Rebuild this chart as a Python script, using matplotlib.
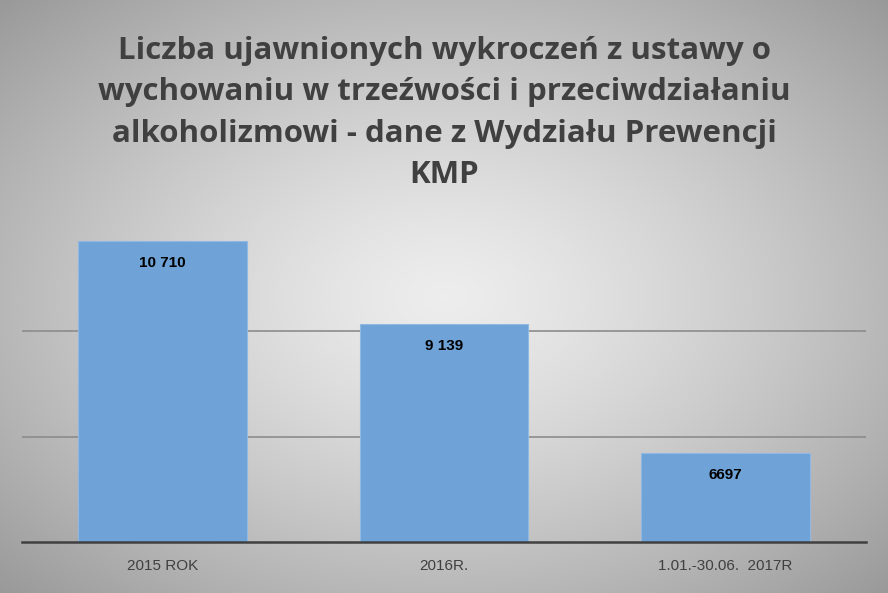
import matplotlib
matplotlib.use("Agg")
import matplotlib.pyplot as plt
import numpy as np

categories = ["2015 ROK", "2016R.", "1.01.-30.06.  2017R"]
values = [10710, 9139, 6697]
labels = ["10 710", "9 139", "6697"]
title = "Liczba ujawnionych wykroczeń z ustawy o\nwychowaniu w trzeźwości i przeciwdziałaniu\nalkoholizmowi - dane z Wydziału Prewencji\nKMP"

W, H = 888, 593
fig = plt.figure(figsize=(W/100, H/100), dpi=100)
bg = fig.add_axes([0, 0, 1, 1])
yy, xx = np.mgrid[0:H, 0:W]
r = np.sqrt(((xx - W/2)/(W/2))**2 + ((yy - H/2)/(H/2))**2) / np.sqrt(2)
g = 0.93 - 0.33*r**1.3
img = np.dstack([g, g, g])
bg.imshow(img, aspect="auto", extent=[0, 1, 0, 1])
bg.axis("off")

ax = fig.add_axes([22/W, (H-542)/H, (866-22)/W, (542-226)/H])
ax.patch.set_alpha(0)
x = np.arange(len(categories))
ax.bar(x, values, width=0.6, color="#6fa3d8", edgecolor="#8fb8e3", linewidth=0.8, zorder=3, bottom=0)
ax.set_ylim(5000, 11000)
ax.set_xlim(-0.5, 2.5)
for yv in [7000, 9000]:
    ax.axhline(yv, color="#8c8c8c", lw=1.2, zorder=1)
for xi, v, l in zip(x, values, labels):
    ax.text(xi, v - 420, l, ha="center", va="center", fontsize=11, fontweight="bold", color="black", family="Liberation Sans", zorder=4)
ax.set_xticks(x)
ax.set_xticklabels(categories, fontsize=11, color="#404040", family="Liberation Sans")
ax.tick_params(axis="x", length=0, pad=12)
ax.set_yticks([])
for s in ["top", "right", "left"]:
    ax.spines[s].set_visible(False)
ax.spines["bottom"].set_color("#404040")
ax.spines["bottom"].set_linewidth(1.8)
ax.spines["bottom"].set_zorder(5)

fig.text(0.5, 1 - 113/H, title, ha="center", va="center", fontsize=22.5, fontweight="bold",
         color="#404040", family=["Open Sans", "DejaVu Sans"], linespacing=1.5)
fig.savefig("out.png", dpi=100)
